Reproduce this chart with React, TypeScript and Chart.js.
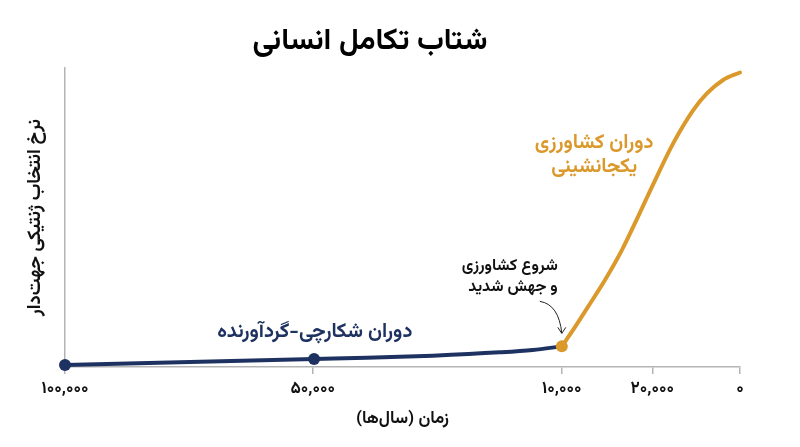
import React, { useEffect, useRef } from "react";
import { Chart, registerables } from "chart.js";

Chart.register(...registerables);

const FONT = "'Vazirmatn', 'Noto Sans Arabic', 'DejaVu Sans', sans-serif";
const NAVY = "#1e3261";
const ORANGE = "#db982b";
const AXIS = "#b4b4b4";

const TITLE = "شتاب تکامل انسانی";
const X_TITLE = "\u200Fزمان (سال\u200Cها)\u200F";
const Y_TITLE = "نرخ انتخاب ژنتیکی جهت\u200Cدار";

// time axis is not linear in the original: ticks sit at these positions (0..100)
const tickPositions = [0, 36.7, 73.6, 87, 100];
const tickLabels = ["۱۰۰,۰۰۰", "۵۰,۰۰۰", "۱۰,۰۰۰", "۲۰,۰۰۰", "۰"];

// hunter-gatherer era
const huntX = [0, 36.9, 44.7, 54.5, 64.4, 69.3, 73.6];
const huntY = [0.7, 2.7, 3.1, 3.8, 4.9, 5.7, 6.9];

// agricultural era
const farmX = [73.6, 75.1, 77.5, 80.0, 82.5, 84.9, 87.2, 90.1, 93.1, 95.1, 97.5, 100];
const farmY = [6.9, 11.8, 20.2, 29.1, 39.1, 50.3, 61.4, 74.8, 86.0, 91.5, 96.0, 98.5];

// which points get a marker
const huntMarkers = [0, 1];
const farmMarkers = [0];

const HUNT_LABEL = "دوران شکارچی-گردآورنده";
const START_LABEL = ["شروع کشاورزی", "و جهش شدید"];
const FARM_LABEL = ["دوران کشاورزی", "یکجانشینی"];

const toPoints = (xs: number[], ys: number[]) => xs.map((x, i) => ({ x, y: ys[i] }));

const annotations = {
  id: "annotations",
  afterDatasetsDraw(chart: Chart) {
    const { ctx } = chart;
    const x = chart.scales.x;
    const y = chart.scales.y;
    ctx.save();
    ctx.direction = "rtl";
    ctx.textBaseline = "middle";

    // hunter-gatherer label
    ctx.fillStyle = NAVY;
    ctx.font = `bold 20px ${FONT}`;
    ctx.textAlign = "center";
    ctx.fillText(HUNT_LABEL, x.getPixelForValue(37), y.getPixelForValue(11.2));

    // start of agriculture label
    ctx.fillStyle = "#111";
    ctx.font = `bold 16px ${FONT}`;
    ctx.textAlign = "right";
    ctx.fillText(START_LABEL[0], x.getPixelForValue(73), y.getPixelForValue(33.4));
    ctx.fillText(START_LABEL[1], x.getPixelForValue(73), y.getPixelForValue(26.2));

    // agriculture era label
    ctx.fillStyle = ORANGE;
    ctx.font = `bold 20px ${FONT}`;
    ctx.textAlign = "center";
    ctx.fillText(FARM_LABEL[0], x.getPixelForValue(78.4), y.getPixelForValue(74.2));
    ctx.fillText(FARM_LABEL[1], x.getPixelForValue(78.4), y.getPixelForValue(66.4));

    // curved arrow pointing at the 10,000 marker
    const px = x.getPixelForValue(farmX[0]);
    const py = y.getPixelForValue(farmY[0]);
    const tipX = px;
    const tipY = py - 13;
    ctx.strokeStyle = "#222";
    ctx.lineWidth = 1;
    ctx.beginPath();
    ctx.moveTo(px - 22, py - 45);
    ctx.quadraticCurveTo(px - 3, py - 42, tipX, tipY);
    ctx.moveTo(tipX - 4, tipY - 6);
    ctx.lineTo(tipX, tipY);
    ctx.lineTo(tipX + 4, tipY - 6);
    ctx.stroke();
    ctx.restore();
  },
};

const App: React.FC = () => {
  const canvasRef = useRef<HTMLCanvasElement>(null);
  const chartRef = useRef<Chart | null>(null);

  useEffect(() => {
    document.body.style.margin = "0";
    if (!canvasRef.current) return;
    if (chartRef.current) chartRef.current.destroy();

    const huntPts = toPoints(huntX, huntY);
    const farmPts = toPoints(farmX, farmY);

    chartRef.current = new Chart(canvasRef.current, {
      type: "line",
      data: {
        datasets: [
          {
            label: "farm markers",
            data: farmMarkers.map((i) => farmPts[i]),
            showLine: false,
            pointRadius: 6,
            pointBorderWidth: 0,
            pointBackgroundColor: ORANGE,
            clip: false,
          },
          {
            label: "hunt markers",
            data: huntMarkers.map((i) => huntPts[i]),
            showLine: false,
            pointRadius: 6,
            pointBorderWidth: 0,
            pointBackgroundColor: NAVY,
            clip: false,
          },
          {
            label: "farm",
            data: farmPts,
            borderColor: ORANGE,
            borderWidth: 4,
            pointRadius: 0,
            cubicInterpolationMode: "monotone",
            borderCapStyle: "round",
            clip: false,
          },
          {
            label: "hunt",
            data: huntPts,
            borderColor: NAVY,
            borderWidth: 4,
            pointRadius: 0,
            cubicInterpolationMode: "monotone",
            borderCapStyle: "round",
            clip: false,
          },
        ],
      },
      options: {
        responsive: true,
        maintainAspectRatio: false,
        animation: false,
        layout: { padding: { left: 0, right: 60, top: 0, bottom: 0 } },
        plugins: {
          legend: { display: false },
          tooltip: { enabled: false },
          title: {
            display: true,
            text: TITLE,
            color: "#000",
            font: { family: FONT, size: 30, weight: "bold" },
            padding: { top: 26, bottom: 6 },
          },
        },
        scales: {
          x: {
            type: "linear",
            min: 0,
            max: 100,
            afterBuildTicks: (s: any) => {
              s.ticks = tickPositions.map((v) => ({ value: v }));
            },
            afterFit: (s: any) => {
              s.height = 80;
            },
            ticks: {
              autoSkip: false,
              maxRotation: 0,
              padding: 6,
              color: "#111",
              font: { family: FONT, size: 17, weight: "bold" },
              callback: (_v: any, i: number) => tickLabels[i],
            },
            grid: {
              drawOnChartArea: false,
              drawTicks: true,
              tickLength: 7,
              color: AXIS,
              lineWidth: 1.5,
            },
            border: { color: AXIS, width: 1.5 },
            title: {
              display: true,
              text: X_TITLE,
              color: "#111",
              font: { family: FONT, size: 17, weight: "bold" },
              padding: { top: 0, bottom: 16 },
            },
          },
          y: {
            min: 0,
            max: 100,
            afterFit: (s: any) => {
              s.width = 65;
            },
            ticks: { display: false },
            grid: { display: false },
            border: { color: AXIS, width: 1.5 },
            title: {
              display: true,
              text: Y_TITLE,
              color: "#111",
              font: { family: FONT, size: 18.5, weight: "bold" },
              padding: { top: 26, bottom: 0 },
            },
          },
        },
      },
      plugins: [annotations],
    } as any);

    return () => {
      if (chartRef.current) {
        chartRef.current.destroy();
        chartRef.current = null;
      }
    };
  }, []);

  return (
    <div style={{ width: 800, height: 447, background: "#fff" }}>
      <canvas ref={canvasRef} />
    </div>
  );
};

export default App;
